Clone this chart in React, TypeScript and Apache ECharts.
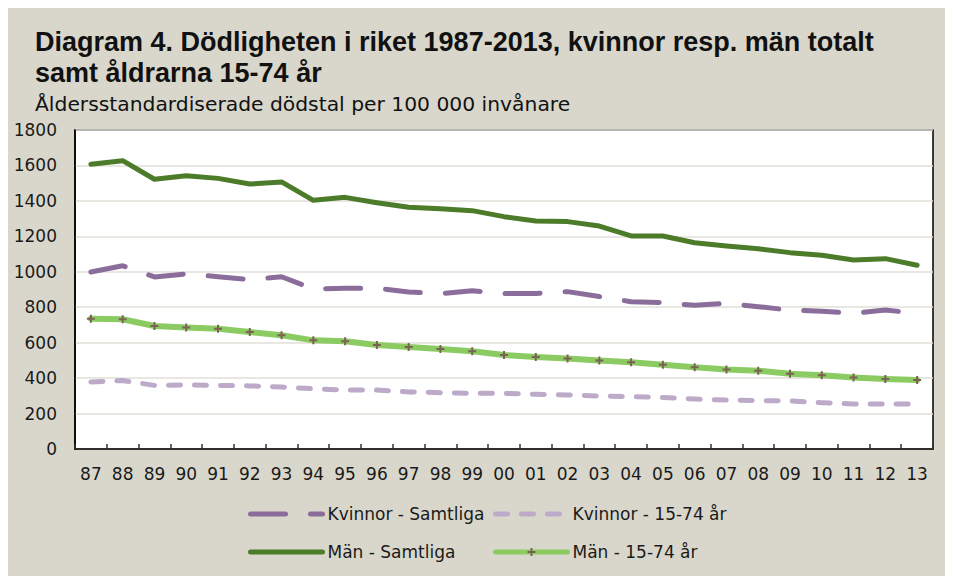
import React, { useEffect, useRef } from "react";
import * as echarts from "echarts";

const years = ["87","88","89","90","91","92","93","94","95","96","97","98","99","00","01","02","03","04","05","06","07","08","09","10","11","12","13"];
const kvinnorSamtliga = [999,1034,971,988,972,956,972,903,907,907,886,877,893,878,878,888,860,831,826,811,822,803,784,777,766,784,766];
const kvinnor1574 = [378,386,359,361,359,356,350,340,333,333,322,318,314,314,309,305,299,295,291,282,276,273,271,261,254,254,254];
const manSamtliga = [1607,1627,1522,1542,1527,1495,1507,1403,1420,1390,1364,1356,1345,1311,1287,1283,1258,1202,1202,1164,1146,1130,1108,1093,1067,1074,1037];
const man1574 = [735,732,694,685,679,660,642,613,608,587,576,564,551,530,519,510,500,489,476,461,448,442,425,416,404,395,389];
const yTicks = { min: 0, max: 1800, interval: 200 };

const FONT = "DejaVu Sans";

export default function App() {
  const ref = useRef<HTMLDivElement>(null);
  useEffect(() => {
    if (!ref.current) return;
    const chart = echarts.init(ref.current, null, { renderer: "svg" });
    const plus = "path://M3,0 L5,0 L5,3 L8,3 L8,5 L5,5 L5,8 L3,8 L3,5 L0,5 L0,3 L3,3 Z";
    const legendText = { fontFamily: FONT, fontSize: 17, color: "#1a1a1a", lineHeight: 20 };
    chart.setOption({
      animation: false,
      backgroundColor: "#d9d7cb",
      title: [
        {
          text: "Diagram 4. Dödligheten i riket 1987-2013, kvinnor resp. män totalt\nsamt åldrarna 15-74 år",
          left: 27,
          top: 18,
          padding: 0,
          textStyle: { fontFamily: "Liberation Sans", fontWeight: "bold", fontSize: 27, lineHeight: 31, color: "#111" },
        },
        {
          text: "Åldersstandardiserade dödstal per 100 000 invånare",
          left: 27,
          top: 86,
          padding: 0,
          textStyle: { fontFamily: FONT, fontWeight: "normal", fontSize: 20.3, color: "#111" },
        },
      ],
      legend: [
        {
          orient: "vertical",
          left: 235,
          top: 491,
          itemWidth: 72,
          itemHeight: 10,
          itemGap: 18,
          textStyle: legendText,
          data: [
            { name: "Kvinnor - Samtliga", itemStyle: { opacity: 0 }, lineStyle: { width: 5 } },
            { name: "Män - Samtliga", itemStyle: { opacity: 0 }, lineStyle: { width: 5 } },
          ],
        },
        {
          orient: "vertical",
          left: 480,
          top: 491,
          itemWidth: 72,
          itemHeight: 10,
          itemGap: 18,
          textStyle: legendText,
          data: [
            { name: "Kvinnor - 15-74 år", itemStyle: { opacity: 0 }, lineStyle: { width: 5 } },
            { name: "Män - 15-74 år", lineStyle: { width: 5 } },
          ],
        },
      ],
      grid: {
        left: 67,
        top: 122,
        width: 858,
        height: 319,
        show: true,
        backgroundColor: "#ffffff",
        borderColor: "#000",
        borderWidth: 1.5,
      },
      xAxis: {
        type: "category",
        data: years,
        boundaryGap: true,
        axisLine: { lineStyle: { color: "#000", width: 1.5 } },
        axisTick: { show: true, inside: true, length: 5, lineStyle: { color: "#333", width: 1.5 } },
        axisLabel: { fontFamily: FONT, fontSize: 17, color: "#1a1a1a", margin: 16 },
      },
      yAxis: {
        type: "value",
        min: yTicks.min,
        max: yTicks.max,
        interval: yTicks.interval,
        axisLine: { show: true, lineStyle: { color: "#000", width: 1.5 } },
        axisTick: { show: false },
        axisLabel: { fontFamily: FONT, fontSize: 17, color: "#1a1a1a", margin: 18, formatter: (v: number) => String(v) },
        splitLine: { lineStyle: { color: "#e2dfd7", width: 1.5 } },
      },
      series: [
        {
          name: "Kvinnor - 15-74 år",
          type: "line",
          data: kvinnor1574,
          showSymbol: false,
          symbol: "none",
          color: "#bcaac8",
          lineStyle: { color: "#bcaac8", width: 5, type: [12, 14], cap: "round", join: "round" },
        },
        {
          name: "Kvinnor - Samtliga",
          type: "line",
          data: kvinnorSamtliga,
          showSymbol: false,
          symbol: "none",
          color: "#8b6d9b",
          lineStyle: { color: "#8b6d9b", width: 5, type: [35, 25], cap: "round", join: "round" },
        },
        {
          name: "Män - 15-74 år",
          type: "line",
          data: man1574,
          symbol: plus,
          symbolSize: 8,
          showSymbol: true,
          color: "#8bcb61",
          itemStyle: { color: "#7c6255", borderWidth: 0 },
          lineStyle: { color: "#8bcb61", width: 6, cap: "round", join: "round" },
        },
        {
          name: "Män - Samtliga",
          type: "line",
          data: manSamtliga,
          showSymbol: false,
          symbol: "none",
          color: "#4c7b2a",
          lineStyle: { color: "#4c7b2a", width: 5, cap: "round", join: "round" },
        },
      ],
    });
    return () => chart.dispose();
  }, []);
  return <div ref={ref} style={{ width: 945, height: 568 }} />;
}
